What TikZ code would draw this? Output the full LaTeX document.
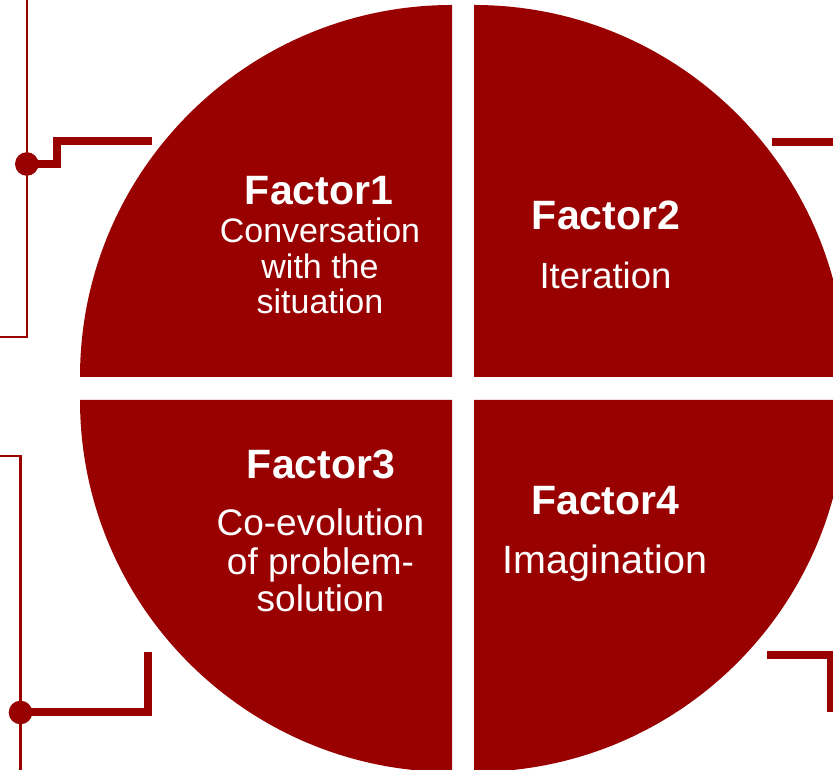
\documentclass[tikz,border=0pt]{standalone}
\usepackage{fontspec}
\setmainfont{Liberation Sans}
\definecolor{darkred}{RGB}{153,0,0}

\tikzset{
  quarter/.style={fill=darkred},
  thinwire/.style={draw=darkred,line width=2.3pt},
  thickwire/.style={draw=darkred,line width=8pt},
  joint/.style={circle,fill=darkred,inner sep=0pt,minimum size=23.6pt},
  head/.style={text=white,anchor=base,font=\fontsize{41}{41}\selectfont\bfseries},
  body/.style={text=white,anchor=base,font=\fontsize{#1}{#1}\selectfont},
}

\begin{document}
\begin{tikzpicture}[x=1pt,y=1pt]
\useasboundingbox (0,0) rectangle (833,770);
\clip (0,0) rectangle (833,770);

% four quarters, pulled apart
\fill[quarter] (452,393) -- ++(180:372) arc[start angle=180,end angle=90,radius=372] -- cycle;
\fill[quarter] (474,393) -- ++(90:372) arc[start angle=90,end angle=0,radius=372] -- cycle;
\fill[quarter] (452,370) -- ++(270:372) arc[start angle=270,end angle=180,radius=372] -- cycle;
\fill[quarter] (474,370) -- ++(0:372) arc[start angle=0,end angle=-90,radius=372] -- cycle;

% wires on the left
\draw[thinwire] (-5,433) -- (26.8,433) -- (26.8,780);
\node[joint] (tlDot) at (26.8,606) {};
\draw[thickwire] (tlDot.center) -- (57.2,606) |- (152,628.5);

\draw[thinwire] (-5,314) -- (20.5,314) -- (20.5,-10);
\node[joint] (blDot) at (20.5,57.5) {};
\draw[thickwire] (blDot.center) -| (147.7,118.3);

% wires on the right
\draw[thickwire] (772,628.3) -- (845,628.3);
\draw[thickwire] (767,114.5) -| (831,58);

% labels
\node[head] (f1head) at (319,565) {Factor1};
\node[body=34] (f1a) at (320,527.3) {Conversation};
\node[body=34] (f1b) at (320,491.7) {with the};
\node[body=34] (f1c) at (320,456.7) {situation};

\node[head] (f2head) at (606,540) {Factor2};
\node[body=36.5] (f2a) at (605.5,481.7) {Iteration};

\node[head] (f3head) at (321,291) {Factor3};
\node[body=37] (f3a) at (320.5,234) {Co-evolution};
\node[body=37] (f3b) at (320.5,195) {of problem-};
\node[body=37] (f3c) at (320.5,158) {solution};

\node[head] (f4head) at (605.3,255) {Factor4};
\node[body=39.5] (f4a) at (605,196.7) {Imagination};

\end{tikzpicture}
\end{document}
